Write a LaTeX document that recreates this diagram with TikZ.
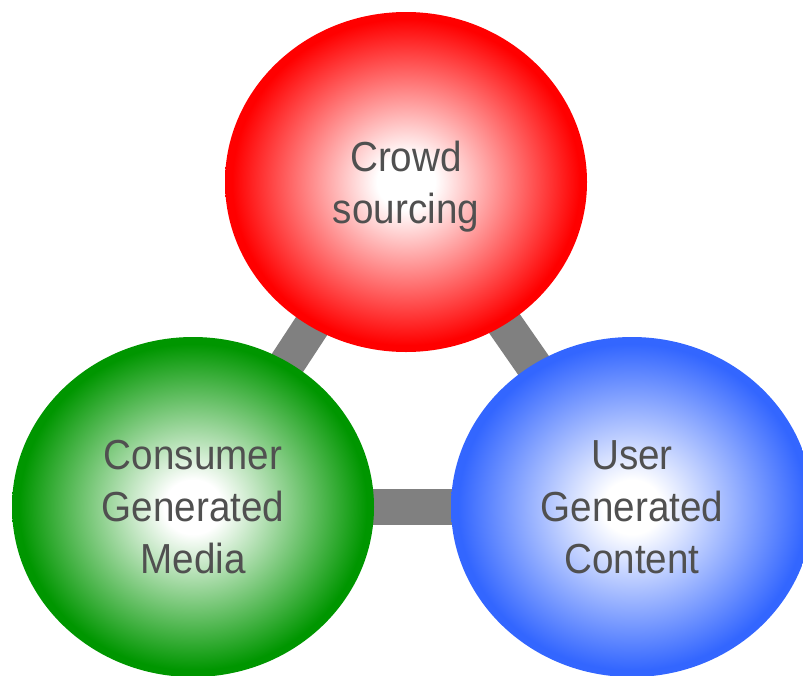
\documentclass[tikz,border=0pt]{standalone}
\usepackage{fontspec}
\setmainfont{Liberation Sans}[FakeStretch = 0.92]
\usetikzlibrary{shapes.geometric}
\usetikzlibrary{backgrounds}
\definecolor{ballred}{RGB}{255,0,0}
\definecolor{ballgreen}{RGB}{0,150,0}
\definecolor{ballblue}{RGB}{51,102,255}
\definecolor{linkgray}{RGB}{128,128,128}
\definecolor{labelgray}{RGB}{80,80,80}
\pgfdeclareradialshading{redball}{\pgfpoint{0bp}{0bp}}{color(0bp)=(white); color(4bp)=(white); color(24bp)=(ballred); color(50bp)=(ballred)}
\pgfdeclareradialshading{greenball}{\pgfpoint{0bp}{0bp}}{color(0bp)=(white); color(4bp)=(white); color(24bp)=(ballgreen); color(50bp)=(ballgreen)}
\pgfdeclareradialshading{blueball}{\pgfpoint{0bp}{0bp}}{color(0bp)=(white); color(4bp)=(white); color(24bp)=(ballblue); color(50bp)=(ballblue)}
\tikzset{ball/.style = {ellipse, inner sep = 0, minimum width = 362pt, minimum height = 340pt, text = labelgray, align = center, font = \fontsize{42}{52}\selectfont, text depth = -8pt}}
\tikzset{link/.style = {draw = linkgray, line width = 36pt}}

\begin{document}
\begin{tikzpicture}[x = 1pt, y = -1pt]
      \useasboundingbox (0, 0) rectangle (803, 675);

      \node [ball, shading = redball] (crowd) at (406, 182) {Crowd\\sourcing};
      \node [ball, shading = greenball] (cgm) at (193, 507) {Consumer\\Generated\\Media};
      \node [ball, shading = blueball] (ugc) at (632, 507) {User\\Generated\\Content};

      % links behind the balls
      \begin{scope}[on background layer]
        \draw [link] (crowd.center) -- (cgm.center);
        \draw [link] (crowd.center) -- (ugc.center);
        \draw [link] (cgm.center) -- (ugc.center);
      \end{scope}
    \end{tikzpicture}
\end{document}
